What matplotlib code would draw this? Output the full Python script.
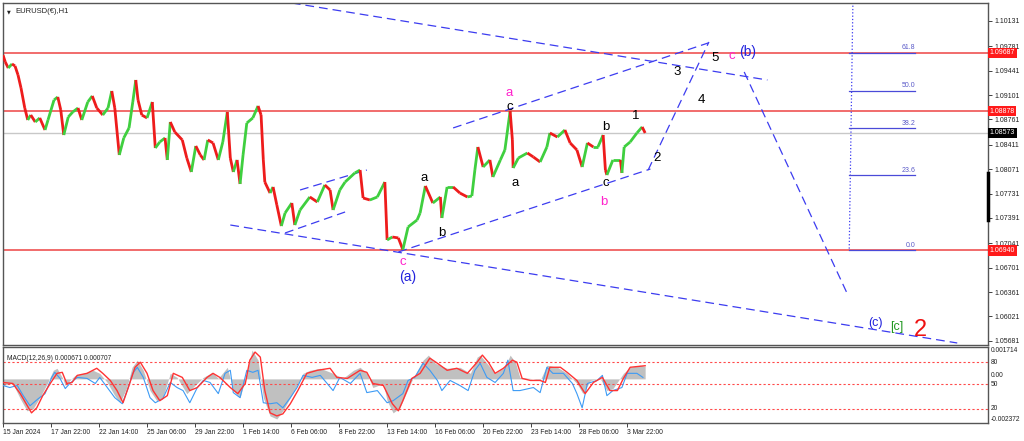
import matplotlib.pyplot as plt
import matplotlib.transforms as mtransforms
from matplotlib.collections import LineCollection

plt.rcParams['font.family'] = ['Liberation Sans', 'DejaVu Sans']

# EURUSD H1 path, x = bar index from 15 Jan 2024 00:00
bars = [0, 3, 7, 12, 16, 20, 24, 29, 33, 37, 43, 49, 56, 60, 68, 73, 77, 81, 87, 93,
        100, 105, 113, 119, 125, 133, 140, 145, 149, 155, 161, 168, 173, 177, 180, 185,
        192, 199, 203, 209, 216, 219, 223, 229, 239, 245, 251, 257, 263, 268, 273, 280,
        287, 293, 299, 303, 307, 312, 316, 320, 325, 333, 340, 344, 347, 349, 356, 360,
        365, 371, 376, 385, 389, 396, 409, 419, 429, 436, 440, 449, 456, 469, 476, 480,
        489, 499, 509, 512, 519, 527, 533, 540, 552, 556, 563, 573, 583, 585, 592, 600,
        609, 619, 625, 629, 633, 640, 649, 653, 663, 669, 676, 679, 680, 687, 699, 707,
        716, 725, 729, 739, 749, 756, 765, 772, 779, 787, 793, 800, 803, 805, 813, 823,
        825, 828, 836, 845, 852, 856]
closes = [1.09658, 1.09561, 1.09477, 1.09533, 1.09505, 1.09380, 1.09199, 1.08921, 1.08754,
          1.08823, 1.08726, 1.08782, 1.08615, 1.08754, 1.09032, 1.09074, 1.08893, 1.08545,
          1.08796, 1.08865, 1.08921, 1.08754, 1.09004, 1.09088, 1.08921, 1.08823, 1.08921,
          1.09157, 1.08921, 1.08267, 1.08504, 1.08643, 1.09004, 1.09310, 1.09032, 1.08823,
          1.08782, 1.09004, 1.08364, 1.08448, 1.08504, 1.08198, 1.08726, 1.08587, 1.08476,
          1.08225, 1.08031, 1.08392, 1.08267, 1.08198, 1.08476, 1.08434, 1.08198, 1.08448,
          1.08865, 1.08225, 1.08031, 1.08198, 1.07864, 1.08267, 1.08712, 1.08782, 1.08949,
          1.08823, 1.08198, 1.07891, 1.07738, 1.07822, 1.07572, 1.07279, 1.07460, 1.07599,
          1.07293, 1.07502, 1.07683, 1.07613, 1.07850, 1.07780, 1.07502, 1.07780, 1.07891,
          1.08017, 1.08058, 1.07669, 1.07641, 1.07683, 1.07891, 1.07085, 1.07126, 1.07113,
          1.06950, 1.07266, 1.07363, 1.07460, 1.07836, 1.07599, 1.07683, 1.07391, 1.07822,
          1.07822, 1.07738, 1.07683, 1.07697, 1.08058, 1.08378, 1.08100, 1.08198, 1.07961,
          1.08198, 1.08337, 1.08879, 1.08476, 1.08086, 1.08225, 1.08295, 1.08239, 1.08170,
          1.08378, 1.08573, 1.08517, 1.08615, 1.08434, 1.08337, 1.08100, 1.08434, 1.08378,
          1.08378, 1.08545, 1.08058, 1.07989, 1.08198, 1.08198, 1.08017, 1.08378, 1.08448,
          1.08573, 1.08657, 1.08573]

red_levels = [1.09687, 1.08878, 1.06940]
last_price = 1.08573
price_ticks = [1.10131, 1.09781, 1.09441, 1.09101, 1.08761, 1.08411, 1.08071,
               1.07731, 1.07391, 1.07041, 1.06701, 1.06361, 1.06021, 1.05681]
time_labels = ['15 Jan 2024', '17 Jan 22:00', '22 Jan 14:00', '25 Jan 06:00',
               '29 Jan 22:00', '1 Feb 14:00', '6 Feb 06:00', '8 Feb 22:00',
               '13 Feb 14:00', '16 Feb 06:00', '20 Feb 22:00', '23 Feb 14:00',
               '28 Feb 06:00', '3 Mar 22:00']
time_ticks = [64 * i for i in range(len(time_labels))]

# dashed trend lines: (bar0, price0, bar1, price1)
trend_lines = [
    (385, 1.10381, 1019, 1.09310),
    (303, 1.07293, 1272, 1.05652),
    (396, 1.07780, 485, 1.08058),
    (376, 1.07182, 456, 1.07474),
    (527, 1.06918, 863, 1.08072),
    (600, 1.08643, 940, 1.09825),
    (860, 1.08058, 941, 1.09839),
    (988, 1.09422, 1125, 1.06347),
]

# fibonacci tool
fib_labels = ['61.8', '50.0', '38.2', '23.6', '0.0']
fib_ratios = [0.618, 0.5, 0.382, 0.236, 0.0]
fib_low, fib_618 = 1.06940, 1.09687
fib_x0, fib_x1 = 1128, 1216

# wave labels: text, bar, price, colour, size
waves = [
    ('c', 533, 1.06779, '#ff22cc', 9.5), ('(a)', 539, 1.06570, '#2222dd', 10),
    ('a', 561, 1.07947, 'black', 9.5), ('b', 585, 1.07182, 'black', 9.5),
    ('a', 675, 1.09125, '#ff22cc', 9.5), ('c', 676, 1.08935, 'black', 9.5),
    ('a', 683, 1.07878, 'black', 9.5), ('b', 804, 1.08657, 'black', 9.5),
    ('c', 803, 1.07878, 'black', 9.5), ('b', 801, 1.07613, '#ff22cc', 9.5),
    ('1', 843, 1.08810, 'black', 9.5), ('2', 872, 1.08225, 'black', 9.5),
    ('3', 899, 1.09422, 'black', 9.5), ('4', 931, 1.09032, 'black', 9.5),
    ('5', 949, 1.09616, 'black', 9.5), ('c', 971, 1.09644, '#ff22cc', 9.5),
    ('(b)', 992, 1.09700, '#2222dd', 10), ('(c)', 1163, 1.05930, '#2222dd', 9),
    ('[c]', 1192, 1.05875, '#229922', 9), ('2', 1223, 1.05833, '#ee1111', 17),
]

# MACD panel
main_bars = [0, 13, 23, 32, 40, 49, 59, 67, 72, 79, 83, 89, 96, 107, 120, 129, 139, 149,
             156, 165, 172, 179, 187, 196, 205, 213, 223, 232, 245, 253, 267, 279, 287,
             299, 307, 316, 325, 332, 340, 347, 356, 365, 373, 383, 392, 400, 409, 423,
             440, 453, 467, 476, 485, 493, 507, 512, 520, 529, 539, 547, 560, 567, 576,
             592, 609, 623, 632, 636, 645, 656, 669, 676, 683, 689, 703, 716, 725, 739,
             752, 765, 773, 783, 796, 805, 813, 827, 836, 849, 856]
macd_main = [-0.000356, -0.000247, -0.001065, -0.001718, -0.001609, -0.001010, -0.000247,
             0.000461, 0.000570, 0.000080, -0.000356, -0.000084, 0.000189, 0.000298,
             0.000461, 0.000298, -0.000193, -0.000901, -0.001282, -0.000465, 0.000624,
             0.001006, 0.000461, -0.000629, -0.001173, -0.001010, 0.000298, 0.000080,
             -0.000792, -0.000465, 0.000080, 0.000352, 0.000025, 0.000624, -0.000629,
             -0.001010, 0.000298, 0.001551, 0.001006, -0.001010, -0.001991, -0.002154,
             -0.001718, -0.001010, -0.000356, 0.000298, 0.000461, 0.000570, 0.000298,
             0.000025, 0.000461, 0.000624, 0.000298, -0.000465, -0.000247, -0.001173,
             -0.001827, -0.001555, -0.000629, 0.000080, 0.001006, 0.001278, 0.000842,
             0.000570, 0.000624, 0.000298, 0.001169, 0.001278, 0.000842, 0.000298,
             0.000624, 0.001278, 0.000897, 0.000080, 0.000025, -0.000084, 0.000733,
             0.000624, 0.000298, -0.000247, -0.000792, -0.000084, 0.000025, -0.000629,
             -0.000520, 0.000298, 0.000624, 0.000733, 0.000671]

signal_bars = [0, 13, 23, 38, 45, 53, 63, 72, 79, 85, 92, 99, 112, 125, 133, 143, 152, 160,
               167, 176, 183, 192, 200, 209, 219, 227, 239, 249, 259, 272, 280, 289, 303,
               313, 323, 329, 336, 343, 349, 356, 365, 373, 383, 393, 405, 419, 436, 445,
               459, 476, 485, 493, 507, 519, 527, 533, 545, 556, 569, 579, 592, 605, 619,
               632, 639, 647, 656, 667, 679, 685, 692, 703, 716, 723, 729, 743, 752, 765,
               776, 787, 799, 809, 819, 827, 836, 856]
macd_signal = [-0.000193, -0.000247, -0.000792, -0.001827, -0.001555, -0.000901, -0.000247,
               0.000298, 0.000352, -0.000247, -0.000193, 0.000189, 0.000298, 0.000570,
               0.000298, -0.000084, -0.000629, -0.001282, -0.000465, 0.000624, 0.000897,
               0.000298, -0.000629, -0.001173, -0.000901, 0.000298, 0.000080, -0.000629,
               -0.000465, 0.000080, 0.000298, 0.000080, -0.000465, -0.000792, -0.000247,
               0.001006, 0.001442, 0.001169, -0.000629, -0.001827, -0.001991, -0.001882,
               -0.001337, -0.000629, 0.000298, 0.000461, 0.000570, 0.000080, 0.000025,
               0.000461, 0.000352, -0.000247, -0.000356, -0.001337, -0.001718, -0.001173,
               0.000025, 0.000298, 0.001115, 0.000842, 0.000461, 0.000570, 0.000298,
               0.000897, 0.001278, 0.000897, 0.000298, 0.000570, 0.001006, 0.000897,
               0.000025, -0.000084, -0.000084, -0.000193, 0.000624, 0.000624, 0.000352,
               -0.000084, -0.000792, -0.000193, 0.000080, -0.000629, -0.000629, 0.000025,
               0.000624, 0.000707]

blue_bars = [0, 9, 19, 27, 36, 47, 56, 65, 69, 76, 83, 89, 99, 112, 123, 129, 139, 149,
             159, 167, 173, 179, 187, 196, 203, 213, 223, 232, 240, 249, 259, 267, 276,
             287, 296, 303, 307, 316, 325, 333, 340, 347, 356, 365, 373, 383, 392, 400,
             412, 423, 440, 449, 463, 476, 485, 499, 512, 520, 533, 540, 549, 560, 569,
             579, 585, 596, 609, 620, 629, 636, 645, 656, 667, 673, 680, 689, 707, 716,
             725, 733, 747, 759, 765, 772, 779, 792, 799, 805, 813, 825, 832, 845, 853]
macd_blue = [-0.000356, -0.000465, -0.000356, -0.000901, -0.001446, -0.001065, -0.000792,
             0.000080, 0.000352, 0.000025, -0.000520, -0.000247, 0.000080, 0.000025,
             -0.000247, 0.000080, -0.000465, -0.001010, -0.001337, -0.000465, 0.000298,
             0.000624, 0.000080, -0.001010, -0.001282, -0.001065, -0.000193, -0.000465,
             -0.000629, -0.001282, -0.000465, -0.000084, -0.000193, -0.000792, 0.000298,
             0.000461, -0.000738, -0.001010, 0.000461, 0.000352, 0.000461, -0.001282,
             -0.001337, -0.001282, -0.001555, -0.001010, -0.000465, 0.000189, 0.000080,
             0.000189, -0.000629, 0.000080, -0.000247, 0.000298, -0.000738, -0.000629,
             -0.001282, -0.001173, -0.000792, -0.000084, 0.000080, 0.000842, 0.000461,
             -0.000084, -0.000629, -0.000084, -0.000356, -0.000629, 0.000461, 0.000842,
             0.000080, -0.000193, 0.000298, 0.001006, -0.000629, -0.000629, -0.000465,
             -0.000738, 0.000624, 0.000298, 0.000298, -0.000247, -0.000792, -0.001555,
             -0.000247, -0.000084, 0.000189, -0.000901, -0.000629, -0.000465, 0.000298,
             0.000298, 0.000080]

macd_levels = [0.000897, -0.000302, -0.001609]
macd_top, macd_bottom = 0.001714, -0.002372

W, H = 1024, 441
fig = plt.figure(figsize=(W / 100, H / 100), dpi=100)
fig.patch.set_facecolor('white')

x_left, x_right = 3, 988
ax = fig.add_axes([x_left / W, 1 - 345 / H, (x_right - x_left) / W, (345 - 3) / H])
ax2 = fig.add_axes([x_left / W, 1 - 423 / H, (x_right - x_left) / W, (423 - 347) / H])

xmax = 1313
for a in (ax, ax2):
    a.set_xlim(0, xmax)
    for s in a.spines.values():
        s.set_color('#555555')
        s.set_linewidth(1.0)

ax.set_ylim(1.05624, 1.10381)

# horizontal levels
for lv in red_levels:
    ax.axhline(lv, color='#f06060', lw=1.3, zorder=1)
ax.axhline(last_price, color='#c8c8c8', lw=1.0, zorder=1)

# price path as coloured up/down strokes
segs, cols = [], []
for i in range(1, len(bars)):
    segs.append([(bars[i - 1], closes[i - 1]), (bars[i], closes[i])])
    cols.append('#3fcf3f' if closes[i] >= closes[i - 1] else '#ee1c1c')
ax.add_collection(LineCollection(segs, colors=cols, linewidths=2.0, zorder=3))

# trend lines
for b0, p0, b1, p1 in trend_lines:
    ax.plot([b0, b1], [p0, p1], color='#3c3cf0', lw=0.9, dashes=(7, 4), zorder=2)

# fibonacci
fib_span = (fib_618 - fib_low) / 0.618
ax.plot([1133, fib_x0], [1.1045, fib_low], color='#3c3cf0', lw=0.9, ls=':', zorder=2)
for lab, r in zip(fib_labels, fib_ratios):
    lv = fib_low + r * fib_span
    ax.plot([fib_x0, fib_x1], [lv, lv], color='#4a4ad8', lw=0.9, zorder=2)
    ax.text(fib_x1, lv + 0.0002, lab, color='#5a5ac8', fontsize=5,
            ha='right', va='bottom')

# wave labels
for t, b, p, c, s in waves:
    ax.text(b, p, t, color=c, fontsize=s, ha='center', va='center', zorder=5)

ax.set_xticks([])
ax.yaxis.tick_right()
ax.set_yticks(price_ticks)
ax.set_yticklabels(['%.5f' % v for v in price_ticks])
ax.tick_params(axis='y', length=3, width=0.6, labelsize=5, pad=2, colors='#222222')

trans = mtransforms.blended_transform_factory(ax.transAxes, ax.transData)
for lv in red_levels:
    ax.text(1.0015, lv, '%.5f' % lv, transform=trans, fontsize=5, color='white',
            va='center', ha='left',
            bbox=dict(boxstyle='square,pad=0.25', fc='#ff1a1a', ec='none'))
ax.text(1.0015, last_price, '%.5f' % last_price, transform=trans, fontsize=5,
        color='white', va='center', ha='left',
        bbox=dict(boxstyle='square,pad=0.25', fc='black', ec='none'))
ax.plot([1.0, 1.0], [1.08017, 1.07363], transform=trans, color='black', lw=2.5,
        clip_on=False, zorder=6)

ax.text(0.013, 0.975, 'EURUSD(€),H1', transform=ax.transAxes, fontsize=5.5,
        color='#222222', va='center', ha='left')
ax.text(0.004, 0.975, '▼', transform=ax.transAxes, fontsize=3.5,
        color='#222222', va='center', ha='left', family='DejaVu Sans')

# MACD
ax2.set_ylim(macd_bottom, macd_top)
ax2.fill_between(main_bars, 0, macd_main, color='#c0c0c0', lw=0, zorder=1)
ax2.plot(blue_bars, macd_blue, color='#3d9bf5', lw=0.8, zorder=3)
ax2.plot(signal_bars, macd_signal, color='#ff3333', lw=1.0, zorder=4)
for lv in macd_levels:
    ax2.axhline(lv, color='#ff4a4a', lw=0.8, dashes=(2, 2), zorder=2)

ax2.set_yticks([])
ax2.text(0.004, 0.85, 'MACD(12,26,9) 0.000671 0.000707', transform=ax2.transAxes,
         fontsize=4.8, color='#222222', va='center', ha='left')
trans2 = mtransforms.blended_transform_factory(ax2.transAxes, ax2.transData)
right_labels = [(macd_top, '0.001714', 'top'), (macd_levels[0], '80', 'center'),
                (0.0, '0.00', 'bottom'), (macd_levels[1], '50', 'center'),
                (macd_levels[2], '20', 'center'), (macd_bottom, '-0.002372', 'bottom')]
for v, lab, va in right_labels:
    ax2.text(1.003, v, lab, transform=trans2, fontsize=4.8, color='#222222',
             va=va, ha='left', clip_on=False)

ax2.set_xticks(time_ticks)
ax2.set_xticklabels(time_labels)
ax2.tick_params(axis='x', length=3, width=0.6, labelsize=4.9, pad=1.5,
                colors='#222222')
for lab in ax2.get_xticklabels():
    lab.set_ha('left')

fig.savefig('out.png', dpi=100)
